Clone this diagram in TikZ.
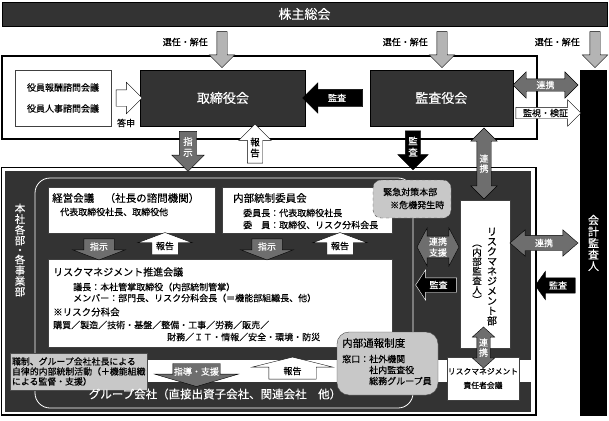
\documentclass[tikz,border=0pt]{standalone}
\usepackage{fontspec}
\setmainfont{Noto Sans CJK JP}[FakeBold=0.25]
\usetikzlibrary{positioning,shapes.arrows}
\definecolor{boxgray}{HTML}{333333}
\definecolor{selgray}{HTML}{B4B4B4}
\definecolor{midgray}{HTML}{6E6E6E}
\definecolor{palegray}{HTML}{C8C8C8}
\newcommand{\fsz}[1]{\fontsize{#1}{#1}\selectfont}
\tikzset{
  darkbox/.style={draw=black, fill=boxgray, text=white, inner sep=0pt, font=\fsz{13}},
  box/.style={draw=black!75, fill=white, inner sep=0pt},
  palebox/.style={draw=black!70, fill=palegray, inner sep=0pt},
  txt/.style={inner sep=0pt, font=\fsz{9}},
  varrow/.style n args={5}{single arrow, draw=black, inner sep=0pt, align=center, minimum height=#1, text width=#2, minimum width=#3, single arrow head extend=#4, single arrow tip angle=#5},
  harrow/.style n args={5}{single arrow, draw=black, inner xsep=0pt, inner ysep=#2, text height=7.9pt, text depth=1.1pt, minimum height=#1, minimum width=#3, single arrow head extend=#4, single arrow tip angle=#5},
  vdarrow/.style n args={5}{double arrow, draw=black, inner sep=0pt, align=center, minimum height=#1, text width=#2, minimum width=#3, double arrow head extend=#4, double arrow tip angle=#5, shape border rotate=90},
  hdarrow/.style n args={5}{double arrow, draw=black, inner xsep=0pt, inner ysep=#2, text height=7.9pt, text depth=1.1pt, minimum height=#1, minimum width=#3, double arrow head extend=#4, double arrow tip angle=#5},
  ptdown/.style={shape border rotate=270},
  ptup/.style={shape border rotate=90},
  ptleft/.style={shape border rotate=180},
  tate/.style={align=center, inner sep=0pt}
}
\begin{document}
\begin{tikzpicture}[x=1pt,y=-1pt]
  \useasboundingbox (0,0) rectangle (609,420);
  \node[darkbox, minimum width=605pt, minimum height=24pt] (kabu) at (304.5,14) {株主総会};
  \draw[line width=1.2pt, fill=white] (2,56) rectangle (537,139);
  \node[box, minimum width=96pt, minimum height=56pt, align=center, font=\fontsize{9}{21}\selectfont] (yakuin) at (63,98) {役員報酬諮問会議\\役員人事諮問会議};
  \node[darkbox, minimum width=165pt, minimum height=56pt, right=29pt of yakuin] (tori) {取締役会};
  \node[darkbox, minimum width=143pt, minimum height=56pt, right=64pt of tori] (kansayaku) {監査役会};
  \node[fill=black, text=white, tate, minimum width=27pt, minimum height=346pt, font=\fontsize{11}{11.5}\selectfont] (kaikei) at (593.5,243) {会\\計\\監\\査\\人};

  \node[varrow={36pt}{10pt}{25pt}{7.5pt}{90}, ptdown, fill=selgray] (sen1) at (222,47) {};
  \node[varrow={36pt}{10pt}{25pt}{7.5pt}{90}, ptdown, fill=selgray] (sen2) at (442,47) {};
  \node[varrow={36pt}{10pt}{25pt}{7.5pt}{90}, ptdown, fill=selgray] (sen3) at (595,47) {};
  \node[txt, anchor=east] (sen1l) at (208,42) {選任・解任};
  \node[txt, anchor=east] (sen2l) at (428,42) {選任・解任};
  \node[txt, anchor=east] (sen3l) at (580,42) {選任・解任};

  \node[harrow={26pt}{3.5pt}{31pt}{7.5pt}{90}, fill=white] (toshin) at (125,98) {};
  \node[txt] (toshinl) at (126,123) {答申};
  \node[harrow={60pt}{4pt}{30pt}{6.5pt}{90}, ptleft, fill=black, text=white, font=\fsz{9}] (kansa1) at (337,98) {監査};
  \node[hdarrow={65pt}{1.5pt}{26pt}{7pt}{90}, fill=midgray, text=white, font=\fsz{9}] (renkei1) at (545.5,85) {連携};
  \node[harrow={65pt}{1pt}{26pt}{7.5pt}{90}, fill=white, font=\fsz{9}] (kanshi) at (545.5,113) {監視・検証};

  \draw[line width=1.2pt, fill=white] (1.5,167.5) rectangle (536,415);
  \fill[boxgray] (4.5,171) rectangle (531,412);
  \draw[white, line width=0.8pt, rounded corners=15pt] (35,178) rectangle (413,408);
  \fill[white] (35,360) rectangle (531,382);

  \node[varrow={40pt}{17pt}{32pt}{7.5pt}{90}, ptdown, fill=midgray, text=white, font=\fontsize{9.5}{11}\selectfont] (shiji1) at (188,147) {指\\示};
  \node[varrow={39pt}{15pt}{32pt}{8.5pt}{90}, ptup, fill=white, font=\fontsize{9.5}{11}\selectfont] (hokoku1) at (255,147.5) {報\\告};
  \node[varrow={39pt}{15pt}{30pt}{7.5pt}{90}, ptdown, fill=black, text=white, font=\fontsize{9.5}{11}\selectfont] (kansa2) at (413,146.5) {監\\査};

  \node[text=white, tate, font=\fontsize{10.5}{9.6}\selectfont] (honsha) at (20,250) {本\\社\\各\\部\\・\\各\\事\\業\\部};
  \node[box, minimum width=167pt, minimum height=46pt] (keiei) at (131.5,210) {};
  \node[box, minimum width=170pt, minimum height=46pt] (naibu) at (307,210) {};
  \node[box, minimum width=344pt, minimum height=88pt] (suishin) at (220,303) {};
  \node[txt, anchor=west, font=\fsz{10.5}] (keiei1) at (52,198) {経営会議　（社長の諮問機関）};
  \node[txt, anchor=west] (keiei2) at (60,212) {代表取締役社長、取締役他};
  \node[txt, anchor=west, font=\fsz{10.5}] (naibu1) at (233,198) {内部統制委員会};
  \node[txt, anchor=west] (naibu2) at (243,213) {委員長：代表取締役社長};
  \node[txt, anchor=west] (naibu3) at (243,225) {委　員：取締役、リスク分科会長};
  \node[txt, anchor=west, font=\fsz{10}] (sui1) at (53,272) {リスクマネジメント推進会議};
  \node[txt, anchor=west] (sui2) at (73,287) {議長：本社管掌取締役（内部統制管掌）};
  \node[txt, anchor=west] (sui3) at (73,298) {メンバー：部門長、リスク分科会長（＝機能部組織長、他）};
  \node[txt, anchor=west, font=\fsz{9.5}] (sui4) at (53,312) {※リスク分科会};
  \node[txt, anchor=west] (sui5) at (53,325) {購買／製造／技術・基盤／整備・工事／労務／販売／};
  \node[txt, anchor=west] (sui6) at (167,337) {財務／ＩＴ・情報／安全・環境・防災};

  \node[varrow={21pt}{30pt}{52pt}{11pt}{138}, ptdown, fill=midgray, text=white, font=\fsz{9}] (shiji2) at (99,246.5) {指示};
  \node[varrow={22pt}{26pt}{54pt}{14pt}{139}, ptup, fill=white, font=\fsz{9}] (hokoku2) at (165,246) {報告};
  \node[varrow={21pt}{30pt}{52pt}{11pt}{138}, ptdown, fill=midgray, text=white, font=\fsz{9}] (shiji3) at (267,246.5) {指示};
  \node[varrow={22pt}{26pt}{54pt}{14pt}{139}, ptup, fill=white, font=\fsz{9}] (hokoku3) at (340,246) {報告};

  \node[palebox, minimum width=137pt, minimum height=37pt, text width=133pt, align=left, font=\fontsize{8.9}{10}\selectfont] (shokusei) at (78.5,371.5) {職制、グループ会社社長による\\自律的内部統制活動（＋機能組織\\による監督・支援）};
  \node[varrow={23pt}{47pt}{83pt}{18pt}{147}, ptdown, fill=midgray, text=white, font=\fsz{9}] (shido) at (196.5,371.5) {指導・支援};
  \node[varrow={22pt}{47pt}{81pt}{17pt}{152}, ptup, fill=white, font=\fsz{9}] (hokoku4) at (292.5,371) {報告};
  \node[text=white, inner sep=0pt, font=\fsz{11.5}] (group) at (215,394) {グループ会社（直接出資子会社、関連会社　他）};

  \node[palebox, rounded corners=12pt, minimum width=101pt, minimum height=63pt] (tsuho) at (387.5,363.5) {};
  \node[txt, anchor=west, font=\fsz{10.5}] (tsuho1) at (342,343) {内部通報制度};
  \node[txt, anchor=west] (tsuho2) at (342,359) {窓口：社外機関};
  \node[txt, anchor=west] (tsuho3) at (369,370) {社内監査役};
  \node[txt, anchor=west] (tsuho4) at (369,381) {総務グループ員};

  \node[palebox, dashed, rounded corners=8pt, minimum width=78pt, minimum height=38pt] (kinkyu) at (412,199) {};
  \node[txt, anchor=west] (kinkyu1) at (383,192) {緊急対策本部};
  \node[txt, anchor=west] (kinkyu2) at (390,205) {※危機発生時};

  \node[box, minimum width=50pt, minimum height=148pt] (rmbu) at (485,274) {};
  \node[tate, font=\fontsize{10}{9.9}\selectfont] (rmbu1) at (492,276.5) {リ\\ス\\ク\\マ\\ネ\\ジ\\メ\\ン\\ト\\部};
  \node[tate, font=\fontsize{9.5}{9.5}\selectfont] (rmbu2) at (477,274) {︵\\内\\部\\監\\査\\人\\︶};
  \node[box, minimum width=72pt, minimum height=43pt, align=center, font=\fontsize{7.8}{14}\selectfont] (sekinin) at (483,378.5) {リスクマネジメント\\責任者会議};

  \node[vdarrow={71pt}{14pt}{26pt}{6pt}{90}, fill=midgray, text=white, font=\fontsize{9}{10}\selectfont] (renkei2) at (484,163.5) {連\\携};
  \node[double arrow, draw=black, fill=midgray, text=white, align=center, inner sep=1pt, minimum height=42pt, minimum width=38pt, double arrow head extend=8pt, double arrow tip angle=124, font=\fontsize{9}{11}\selectfont] (renkei3) at (438,247) {連携\\支援};
  \node[harrow={41pt}{2.5pt}{30pt}{8pt}{113}, ptleft, draw=white, fill=black, text=white, font=\fsz{9}] (kansa3) at (438.5,285) {監査};
  \node[hdarrow={68pt}{3pt}{26pt}{5.5pt}{82}, fill=midgray, text=white, font=\fsz{9}] (renkei4) at (544,243) {連携};
  \node[harrow={40pt}{3pt}{28pt}{6.5pt}{109}, ptleft, fill=black, text=white, font=\fsz{9}] (kansa4) at (558,285.5) {監査};
  \node[vdarrow={41pt}{13pt}{22pt}{4.5pt}{96}, fill=midgray, text=white, font=\fontsize{9}{10}\selectfont] (renkei5) at (483.5,347.5) {連\\携};
\end{tikzpicture}
\end{document}
